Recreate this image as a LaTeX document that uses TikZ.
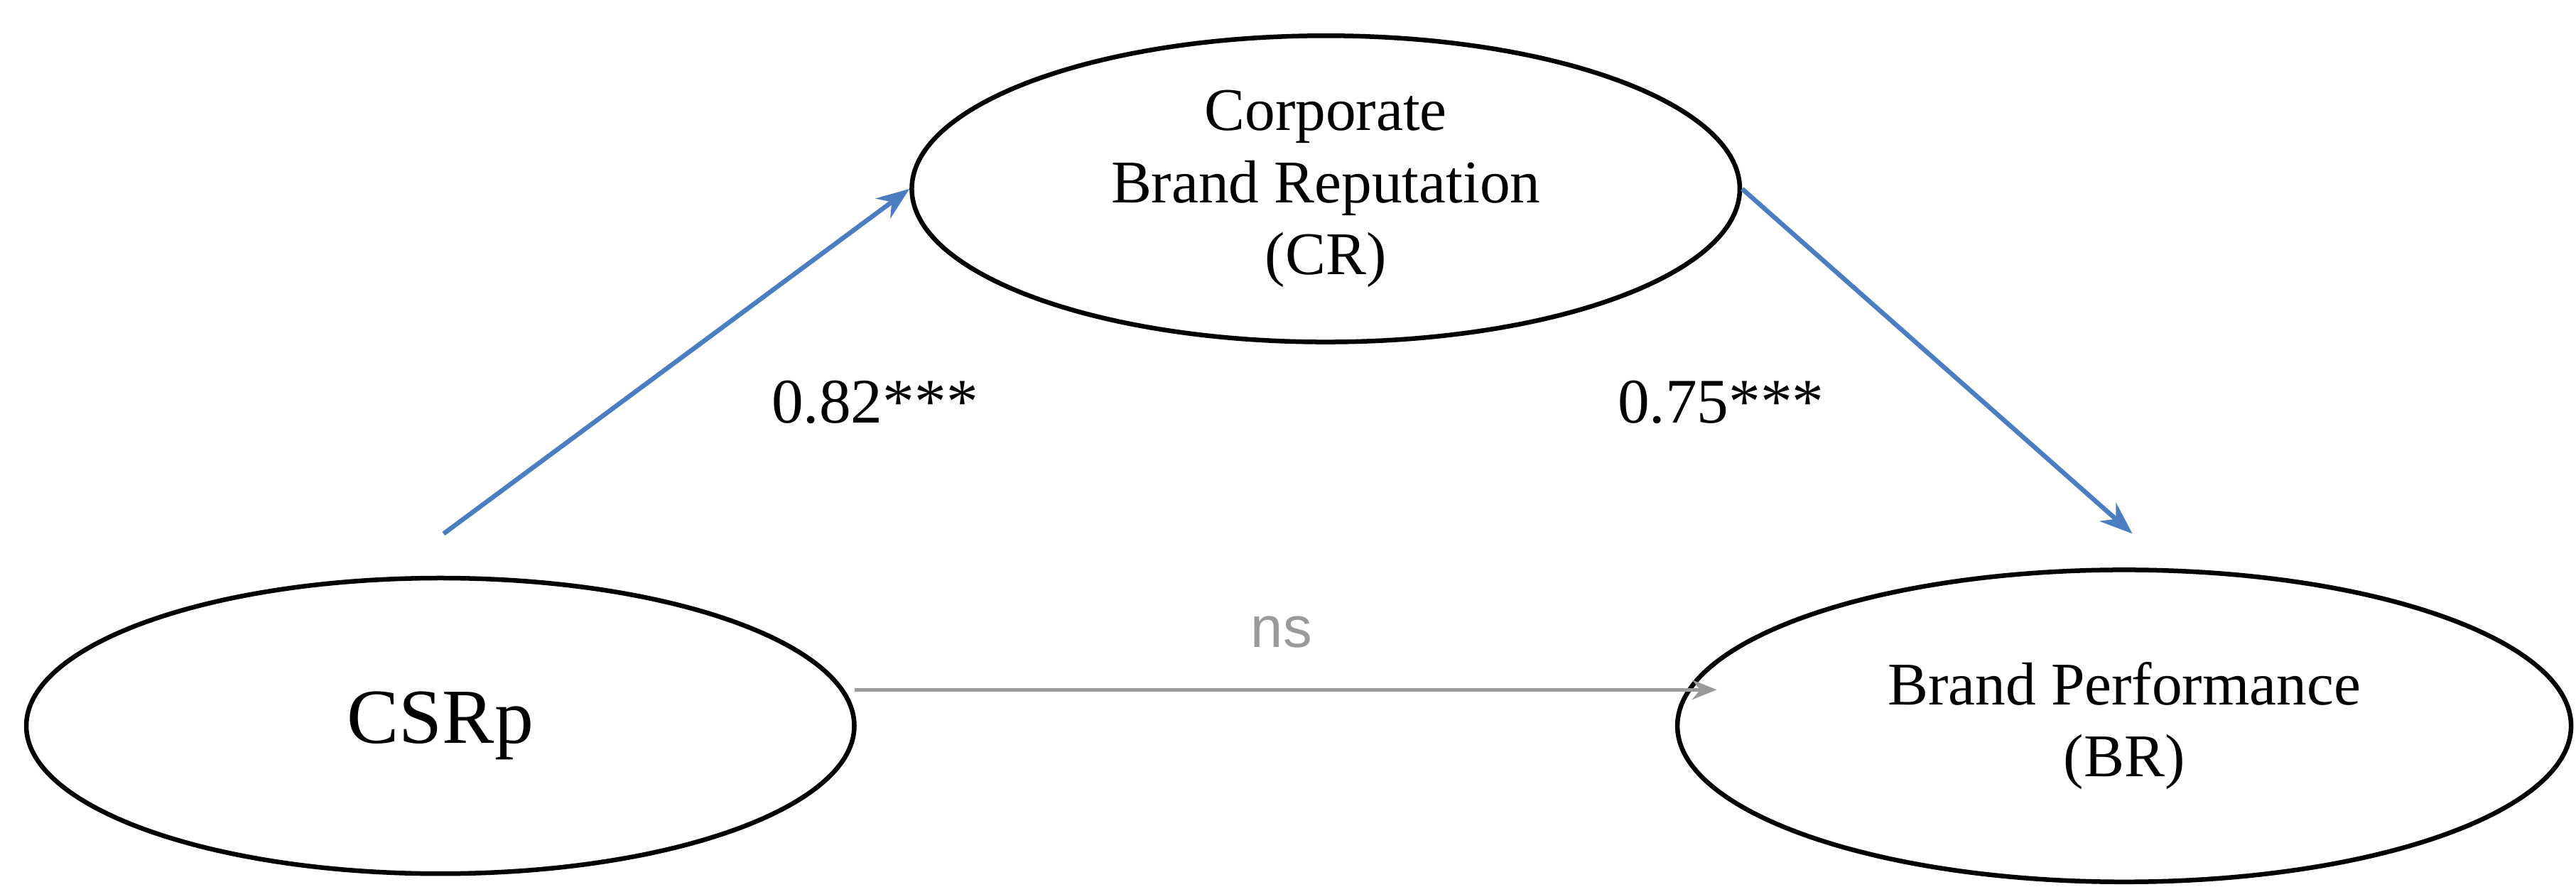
\documentclass[tikz,border=0pt]{standalone}
\usepackage{fontspec}
\setmainfont{Liberation Serif}
\newfontfamily\sansns{Liberation Sans}
\usetikzlibrary{positioning,shapes.geometric,arrows.meta}
\definecolor{pathblue}{HTML}{4A7EC0}
\definecolor{nsgray}{HTML}{9A9A9A}
\begin{document}
\begin{tikzpicture}[thick, main/.style = {draw, ellipse, line width=1.6pt, align=center, font=\fontsize{21}{25}\selectfont}, path/.style = {-{Stealth[length=4mm,width=3mm]}, pathblue, line width=1.6pt}, lab/.style = {font=\fontsize{22}{26}\selectfont}]
\useasboundingbox (0,0) rectangle (31.36,10.8);
\node[main, minimum width=10.08cm, minimum height=3.6cm] (CR) at (16.14,8.5) {Corporate\\Brand Reputation\\(CR)};
\node[main, minimum width=10.08cm, minimum height=3.6cm, font=\fontsize{27}{30}\selectfont] (CSR) at (5.36,1.96) {CSRp};
\node[main, minimum width=10.88cm, minimum height=3.8cm] (BP) at (25.86,1.96) {Brand Performance\\(BR)};
\coordinate (csrtop) at (5.4,4.3);
\coordinate (bptop) at (25.96,4.3);
\coordinate (csrright) at (10.4,2.4);
\coordinate (bpleft) at (20.9,2.4);
\draw[path] (csrtop) -- (CR.west);
\draw[path] (CR.east) -- (bptop);
\draw[-{Stealth[length=3mm,width=2.4mm]}, nsgray, line width=1.2pt] (csrright) -- (bpleft);
\node[lab] (b1) at (10.65,5.9) {0.82***};
\node[lab] (b2) at (20.95,5.9) {0.75***};
\node[font=\sansns\fontsize{20}{24}\selectfont, text=nsgray] (ns) at (15.6,3.1) {ns};
\end{tikzpicture}
\end{document}
